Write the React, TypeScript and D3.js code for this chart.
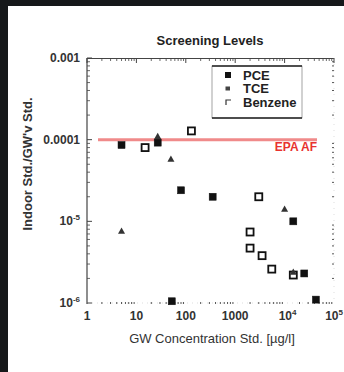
import React, { useEffect } from 'react';
import * as d3 from 'd3';

// values
const pceX = [5, 27, 80, 350, 15000, 25000, 52, 43000];
const pceY = [8.6e-5, 9.2e-5, 2.4e-5, 2.0e-5, 1.0e-5, 2.3e-6, 1.05e-6, 1.1e-6];

const tceX = [27, 50, 5, 10000, 15000];
const tceY = [1.1e-4, 5.8e-5, 7.6e-6, 1.42e-5, 2.4e-6];

const benzX = [15, 130, 3000, 2000, 2000, 3500, 5500, 15000];
const benzY = [8.0e-5, 1.28e-4, 2.0e-5, 7.4e-6, 4.7e-6, 3.8e-6, 2.6e-6, 2.2e-6];

const epaAF = 1e-4;
const xTicks = [1, 10, 100, 1000, 1e4, 1e5];
const xTickLabels = ['1', '10', '100', '1000', '10|4', '10|5'];
const yTicks = [1e-3, 1e-4, 1e-5, 1e-6];
const yTickLabels = ['0.001', '0.0001', '10|-5', '10|-6'];
const legendNames = ['PCE', 'TCE', 'Benzene'];

const W = 344;
const H = 372;
const font = '"Liberation Sans", Arial, sans-serif';

const x = d3.scaleLog().domain([1, 1e5]).range([87, 334]);
const y = d3.scaleLog().domain([1e-6, 1e-3]).range([303, 58]);

// minor ticks (2..9 per decade)
const minorX = d3.range(0, 5).flatMap(e => d3.range(2, 10).map(m => m * Math.pow(10, e)));
const minorY = d3.range(-6, -3).flatMap(e => d3.range(2, 10).map(m => m * Math.pow(10, e)));

const Label = ({ t }: { t: string }) => {
  const [base, sup] = t.split('|');
  if (!sup) return <>{base}</>;
  return (
    <>
      {base}
      <tspan fontSize="8" dy="-5">{sup}</tspan>
    </>
  );
};

const Square = ({ cx, cy, filled }: { cx: number; cy: number; filled: boolean }) => (
  <rect x={cx - 3.5} y={cy - 3.5} width={7} height={7}
    fill={filled ? '#111' : '#fff'} stroke="#111" strokeWidth={filled ? 0.5 : 1.8} />
);

const Tri = ({ cx, cy, s = 3.5 }: { cx: number; cy: number; s?: number }) => (
  <path d={`M${cx},${cy - s}L${cx + s},${cy + s * 0.8}L${cx - s},${cy + s * 0.8}Z`} fill="#333" />
);

export default function App() {
  useEffect(() => {
    document.body.style.margin = '0';
  }, []);

  const ink = '#222';
  const last = xTicks.length - 1;

  return (
    <svg width={W} height={H} style={{ display: 'block', position: 'fixed', left: 0, top: 0 }}>
      <rect width={W} height={H} fill="#16181a" />
      <rect x={8} y={6} width={W - 8} height={H - 6} fill="#fff" />

      {/* title */}
      <text x={210} y={45} textAnchor="middle" fontFamily={font} fontSize={13} fontWeight="bold" fill={ink}>
        Screening Levels
      </text>

      {/* frame: left + top solid, bottom + right dotted */}
      <line x1={87} x2={87} y1={58} y2={304} stroke="#444" strokeWidth={1.2} />
      <line x1={87} x2={334} y1={58.5} y2={58.5} stroke="#444" strokeWidth={1} />
      <line x1={87} x2={334} y1={303} y2={303} stroke="#bbb" strokeWidth={0.5} strokeDasharray="1,4" />
      <line x1={334} x2={334} y1={58} y2={303} stroke="#bbb" strokeWidth={0.5} strokeDasharray="1,5" />

      {/* minor ticks */}
      {minorX.map((v, i) => (
        <g key={'mx' + i}>
          <line x1={x(v)} x2={x(v)} y1={58} y2={61} stroke="#444" strokeWidth={0.8} />
          <line x1={x(v)} x2={x(v)} y1={302} y2={304} stroke="#555" strokeWidth={1} />
        </g>
      ))}
      {minorY.map((v, i) => (
        <g key={'my' + i}>
          <line x1={87} x2={90} y1={y(v)} y2={y(v)} stroke="#444" strokeWidth={0.8} />
          <line x1={332} x2={334} y1={y(v)} y2={y(v)} stroke="#555" strokeWidth={1} />
        </g>
      ))}
      {xTicks.map((v, i) => (
        <line key={'Mx' + i} x1={x(v)} x2={x(v)} y1={58} y2={63} stroke="#444" strokeWidth={1} />
      ))}
      {yTicks.map((v, i) => (
        <line key={'My' + i} x1={87} x2={92} y1={y(v)} y2={y(v)} stroke="#444" strokeWidth={1} />
      ))}

      {/* tick labels */}
      {yTicks.map((v, i) => (
        <text key={'yl' + i} x={80} y={y(v) + 4} textAnchor="end" fontFamily={font} fontSize={12}
          fontWeight="bold" fill="#333">
          <Label t={yTickLabels[i]} />
        </text>
      ))}
      {xTicks.map((v, i) => (
        <text key={'xl' + i}
          x={i === last ? W - 1 : x(v) + (xTickLabels[i].includes('|') ? 3 : 0)}
          y={320} textAnchor={i === last ? 'end' : 'middle'}
          fontFamily={font} fontSize={12} fontWeight="bold" fill="#333">
          <Label t={xTickLabels[i]} />
        </text>
      ))}

      {/* axis titles */}
      <text x={212} y={343} textAnchor="middle" fontFamily={font} fontSize={13} fill="#333">
        GW Concentration Std. [µg/l]
      </text>
      <text transform="translate(32,164) rotate(-90)" textAnchor="middle" fontFamily={font} fontSize={13}
        fontWeight="bold" fill="#333">
        Indoor Std./GW'v Std.
      </text>

      {/* EPA attenuation factor */}
      <line x1={98} x2={317} y1={y(epaAF)} y2={y(epaAF)} stroke="#f08a8a" strokeWidth={3} />
      <text x={317} y={151} textAnchor="end" fontFamily={font} fontSize={12} fontWeight="bold" fill="#e8312f">
        EPA AF
      </text>

      {/* data */}
      {benzX.map((v, i) => <Square key={'b' + i} cx={x(v)} cy={y(benzY[i])} filled={false} />)}
      {pceX.map((v, i) => <Square key={'p' + i} cx={x(v)} cy={y(pceY[i])} filled={true} />)}
      {tceX.map((v, i) => <Tri key={'t' + i} cx={x(v)} cy={y(tceY[i])} />)}

      {/* legend */}
      <g>
        <rect x={212} y={66} width={90} height={52} fill="#fff" stroke="#666" strokeWidth={0.6} />
        <line x1={212} x2={302} y1={66} y2={66} stroke="#222" strokeWidth={1.6} />
        <line x1={212} x2={302} y1={118} y2={118} stroke="#222" strokeWidth={1.6} />
        {legendNames.map((n, i) => {
          const cy = 75 + i * 13.5;
          return (
            <g key={n}>
              {i === 0 && <rect x={225} y={cy - 3} width={6} height={6} fill="#111" />}
              {i === 1 && <rect x={225.5} y={cy - 2} width={4.5} height={4} fill="#444" />}
              {i === 2 && <path d={`M${226},${cy + 3}V${cy - 2}H${231}`} fill="none" stroke="#333" strokeWidth={1.2} />}
              <text x={243} y={cy + 4.5} fontFamily={font} fontSize={13} fontWeight="bold" fill="#222">{n}</text>
            </g>
          );
        })}
      </g>
    </svg>
  );
}
